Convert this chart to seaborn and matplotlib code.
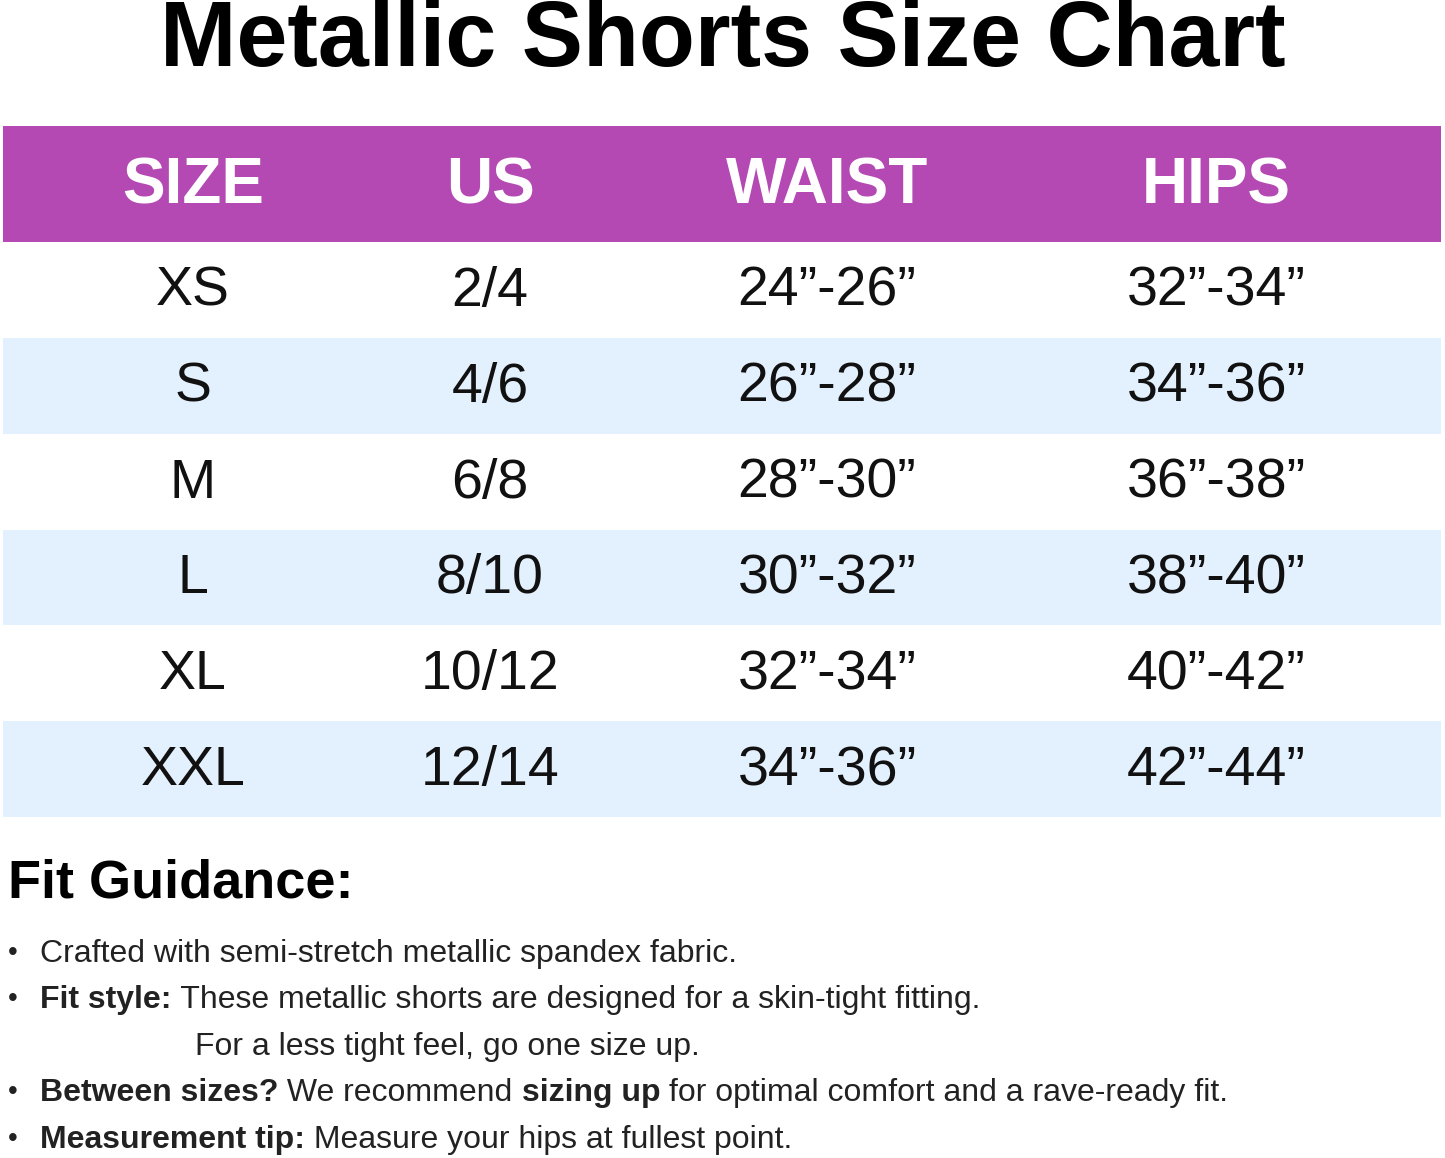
import matplotlib
matplotlib.use('Agg')
import matplotlib.pyplot as plt
import seaborn as sns

title = 'Metallic Shorts Size Chart'
headers = ['SIZE', 'US', 'WAIST', 'HIPS']
sizes = ['XS', 'S', 'M', 'L', 'XL', 'XXL']
us = ['2/4', '4/6', '6/8', '8/10', '10/12', '12/14']
waist = ['24”-26”', '26”-28”', '28”-30”', '30”-32”', '32”-34”', '34”-36”']
hips = ['32”-34”', '34”-36”', '36”-38”', '38”-40”', '40”-42”', '42”-44”']

# bullets: list of (text, bold) segments
bullets = [
    [('Crafted with semi-stretch metallic spandex fabric.', False)],
    [('Fit style:', True), (' These metallic shorts are designed for a skin-tight fitting.', False)],
    None,  # continuation line
    [('Between sizes?', True), (' We recommend ', False), ('sizing up', True),
     (' for optimal comfort and a rave-ready fit.', False)],
    [('Measurement tip:', True), (' Measure your hips at fullest point.', False)],
]
continuation = 'For a less tight feel, go one size up.'

sns.set_theme(style='white')
plt.rcParams['font.family'] = ['Liberation Sans', 'DejaVu Sans']

W, H = 1445, 1158
fig = plt.figure(figsize=(W / 100, H / 100), dpi=100)
ax = fig.add_axes([0, 0, 1, 1])
ax.set_xlim(0, W)
ax.set_ylim(H, 0)
ax.axis('off')

col_x = [193, 490, 827, 1216]
header_top, header_bot = 126, 242
row_h = (817 - 242) / len(sizes)

ax.text(W / 2, 42, title, ha='center', va='center', fontsize=66, fontweight='bold', color='black')

ax.fill_between([3, 1441], header_top, header_bot, color='#B449B4', lw=0)
for x, h in zip(col_x, headers):
    ax.text(x, 186, h, ha='center', va='center', fontsize=46, fontweight='bold', color='white')

for i, row in enumerate(zip(sizes, us, waist, hips)):
    top = header_bot + i * row_h
    if i % 2 == 1:
        ax.fill_between([3, 1441], top, top + row_h, color='#E3F0FD', lw=0)
    for x, val in zip(col_x, row):
        ax.text(x, top + row_h / 2 + 2, val, ha='center', va='center', fontsize=40, color='#111111')

ax.text(8, 897, 'Fit Guidance:', ha='left', va='baseline', fontsize=39, fontweight='bold', color='black')

fig.canvas.draw()
renderer = fig.canvas.get_renderer()
baselines = [962, 1008, 1055, 1101, 1148]
for base, segs in zip(baselines, bullets):
    if segs is None:
        ax.text(195, base, continuation, ha='left', va='baseline', fontsize=23, color='#222222')
        continue
    ax.text(8, base - 2, '•', ha='left', va='baseline', fontsize=20, color='#222222')
    x = 40
    for txt, bold in segs:
        t = ax.text(x, base, txt, ha='left', va='baseline', fontsize=23,
                    fontweight='bold' if bold else 'normal', color='#222222')
        bb = t.get_window_extent(renderer)
        x += bb.width

fig.savefig('out.png', dpi=100)
